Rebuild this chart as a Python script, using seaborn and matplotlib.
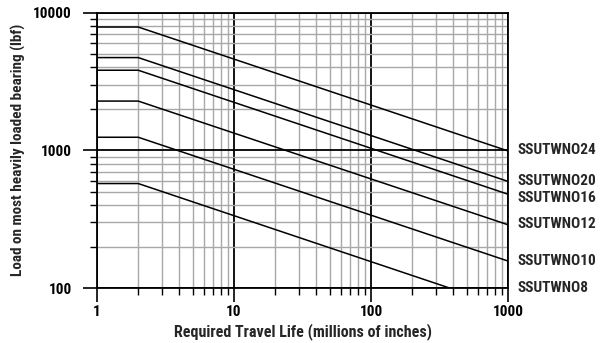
import numpy as np
import pandas as pd
import matplotlib
matplotlib.use("Agg")
import matplotlib.pyplot as plt
import seaborn as sns
from matplotlib import font_manager
from matplotlib.ticker import FuncFormatter, LogLocator, NullFormatter

# travel life (millions of inches) where each curve changes
life = [1, 2, 1000]

models = ['SSUTWNO24', 'SSUTWNO20', 'SSUTWNO16', 'SSUTWNO12', 'SSUTWNO10', 'SSUTWNO8']
load_24 = [7870, 7870, 990]
load_20 = [4720, 4720, 595]
load_16 = [3820, 3820, 480]
load_12 = [2280, 2280, 288]
load_10 = [1245, 1245, 157]
load_8 = [574, 574, 72]

# where the model names sit on the right edge
label_y = [1000, 600, 452, 290, 157, 100]

loads = [load_24, load_20, load_16, load_12, load_10, load_8]
df = pd.concat([pd.DataFrame({'life': life, 'load': l, 'model': m})
                for m, l in zip(models, loads)], ignore_index=True)


def pick_font(names):
    for n in names:
        try:
            font_manager.findfont(font_manager.FontProperties(family=n),
                                  fallback_to_default=False)
            return n
        except Exception:
            pass
    return 'DejaVu Sans'


font = pick_font(['Liberation Sans Narrow', 'Roboto Condensed',
                  'Open Sans Condensed', 'Liberation Sans'])

sns.set_style("ticks")
plt.rcParams['font.family'] = [font, 'DejaVu Sans']
plt.rcParams['font.weight'] = 'bold'

fig = plt.figure(figsize=(6.04, 3.43), dpi=100)
ax = fig.add_axes([97 / 604, 55 / 343, 411 / 604, 275.3 / 343])

sns.lineplot(data=df, x='life', y='load', hue='model', hue_order=models,
             palette=['black'] * len(models), linewidth=1.1, legend=False,
             ax=ax, zorder=5)

ax.set_xscale('log')
ax.set_yscale('log')
ax.set_xlim(1, 1000)
ax.set_ylim(100, 10000)

ax.xaxis.set_minor_locator(LogLocator(base=10, subs=np.arange(2, 10)))
ax.yaxis.set_minor_locator(LogLocator(base=10, subs=np.arange(2, 10)))
ax.xaxis.set_major_formatter(FuncFormatter(lambda v, p: f'{v:g}'))
ax.yaxis.set_major_formatter(FuncFormatter(lambda v, p: f'{v:g}'))
ax.xaxis.set_minor_formatter(NullFormatter())
ax.yaxis.set_minor_formatter(NullFormatter())

ax.grid(which='minor', color='#a8a8a8', linewidth=1.0)
ax.grid(which='major', color='black', linewidth=1.3)
ax.set_axisbelow(True)

for s in ax.spines.values():
    s.set_color('black')
    s.set_linewidth(1.3)
    s.set_visible(True)

ax.tick_params(which='both', bottom=True, left=True, top=False, right=False)
ax.tick_params(which='major', direction='out', length=10, width=1.2,
               colors='black', labelsize=11, pad=2)
ax.tick_params(which='minor', direction='out', length=5, width=1.0,
               colors='black')
ax.tick_params(axis='y', which='major', pad=8)
for t in ax.get_xticklabels() + ax.get_yticklabels():
    t.set_fontweight('bold')

ax.set_xlabel('Required Travel Life (millions of inches)', fontsize=11.5,
              fontweight='bold', labelpad=3)
ax.set_ylabel('Load on most heavily loaded bearing (lbf)', fontsize=11,
              fontweight='bold', labelpad=5)

for m, yv in zip(models, label_y):
    ax.annotate(m, xy=(1000, yv), xytext=(7, 0), textcoords='offset points',
                va='center', ha='left', fontsize=11, fontweight='bold',
                annotation_clip=False)

fig.savefig('out.png', dpi=100, facecolor='white')
